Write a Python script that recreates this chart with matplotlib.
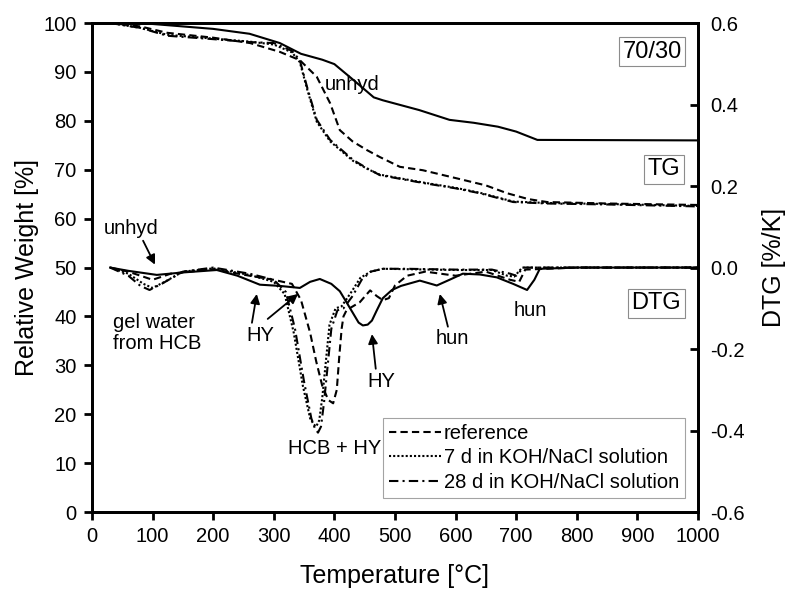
import numpy as np
import matplotlib
matplotlib.use('Agg')
import matplotlib.pyplot as plt

plt.rcParams['font.family'] = ['Liberation Sans', 'DejaVu Sans']

# TG curves (relative weight %)
tg_unhyd_T = [30, 100, 200, 260, 310, 345, 380, 400, 430, 465, 480, 540, 590, 630, 670, 700, 735, 1000]
tg_unhyd_W = [100, 99.8, 98.8, 97.8, 95.9, 93.7, 92.5, 91.6, 88.5, 84.8, 84.2, 82.2, 80.2, 79.6, 78.8, 77.8, 76.1, 76.0]

tg_ref_T = [30, 80, 124, 200, 261, 310, 343, 371, 393, 409, 430, 454, 475, 508, 546, 600, 650, 685, 720, 751, 850, 1000]
tg_ref_W = [100, 99.3, 98.0, 97.0, 95.9, 94.1, 92.4, 89.0, 83.6, 78.1, 75.8, 74.0, 72.6, 70.6, 69.9, 68.3, 66.8, 65.2, 64.0, 63.4, 63.1, 62.8]

tg_7d_T = [30, 80, 124, 200, 260, 300, 330, 343, 355, 371, 393, 431, 454, 475, 546, 600, 640, 695, 750, 850, 1000]
tg_7d_W = [100, 99.0, 97.6, 96.8, 96.2, 95.6, 94.0, 92.0, 86.5, 79.8, 75.8, 71.8, 70.2, 69.0, 67.4, 66.3, 65.3, 63.5, 63.2, 63.0, 62.6]

tg_28d_T = [30, 80, 124, 200, 260, 300, 330, 343, 355, 371, 393, 431, 454, 475, 546, 600, 640, 695, 750, 850, 1000]
tg_28d_W = [100, 99.0, 97.4, 96.7, 96.1, 95.9, 94.3, 92.4, 86.9, 80.2, 76.1, 72.0, 70.3, 68.9, 67.3, 66.2, 65.2, 63.4, 63.1, 62.9, 62.5]

# DTG curves (%/K)
dtg_unhyd_T = [30, 60, 107, 150, 206, 240, 277, 310, 343, 360, 376, 395, 409, 420, 430, 440, 447, 455, 462, 470, 480, 495, 510, 541, 569, 590, 612, 640, 668, 695, 718, 730, 739, 800, 1000]
dtg_unhyd_D = [0, -0.008, -0.018, -0.012, -0.006, -0.02, -0.042, -0.045, -0.05, -0.035, -0.028, -0.04, -0.058, -0.085, -0.11, -0.135, -0.142, -0.14, -0.13, -0.105, -0.075, -0.055, -0.045, -0.032, -0.044, -0.03, -0.015, -0.017, -0.024, -0.04, -0.055, -0.03, -0.003, 0, 0]

dtg_ref_T = [30, 60, 100, 130, 200, 260, 300, 330, 345, 360, 370, 380, 390, 398, 404, 408, 412, 415, 420, 425, 442, 459, 470, 480, 490, 500, 520, 550, 600, 650, 690, 705, 715, 800, 1000]
dtg_ref_D = [0, -0.01, -0.03, -0.015, -0.004, -0.02, -0.03, -0.04, -0.08, -0.16, -0.23, -0.29, -0.325, -0.333, -0.3, -0.22, -0.15, -0.12, -0.105, -0.1, -0.085, -0.056, -0.07, -0.08, -0.075, -0.044, -0.02, -0.01, -0.02, -0.01, -0.03, -0.035, -0.005, 0, 0]

dtg_7d_T = [30, 60, 85, 100, 120, 150, 200, 260, 300, 318, 333, 348, 360, 366, 370, 375, 380, 386, 392, 402, 412, 428, 443, 460, 480, 520, 600, 660, 685, 697, 710, 800, 1000]
dtg_7d_D = [0, -0.015, -0.04, -0.05, -0.035, -0.01, -0.002, -0.018, -0.035, -0.065, -0.16, -0.29, -0.37, -0.385, -0.39, -0.375, -0.32, -0.23, -0.14, -0.1, -0.095, -0.06, -0.025, -0.01, -0.003, -0.004, -0.006, -0.006, -0.02, -0.022, 0, 0, 0]

dtg_28d_T = [30, 60, 80, 95, 115, 150, 200, 260, 300, 320, 335, 350, 362, 368, 373, 378, 383, 389, 395, 405, 415, 430, 445, 460, 480, 520, 600, 660, 690, 700, 712, 800, 1000]
dtg_28d_D = [0, -0.02, -0.045, -0.055, -0.04, -0.01, 0.0, -0.015, -0.03, -0.06, -0.15, -0.28, -0.37, -0.395, -0.405, -0.39, -0.33, -0.24, -0.15, -0.105, -0.1, -0.07, -0.03, -0.01, -0.003, -0.003, -0.005, -0.005, -0.015, -0.02, 0, 0, 0]

legend_labels = ['reference', '7 d in KOH/NaCl solution', '28 d in KOH/NaCl solution']

fig = plt.figure(figsize=(7.86, 5.90), dpi=100)
ax = fig.add_axes([0.117, 0.132, 0.771, 0.829])
ax2 = ax.twinx()

lw = 1.5
dash = (0, (3.5, 2))
dot = (0, (1, 1))
dashdot = (0, (4.5, 2, 1, 2))

ax.plot(tg_unhyd_T, tg_unhyd_W, color='k', lw=lw, ls='-')
l1, = ax.plot(tg_ref_T, tg_ref_W, color='k', lw=lw, ls=dash)
l2, = ax.plot(tg_7d_T, tg_7d_W, color='k', lw=lw, ls=dot)
l3, = ax.plot(tg_28d_T, tg_28d_W, color='k', lw=lw, ls=dashdot)

ax2.plot(dtg_unhyd_T, dtg_unhyd_D, color='k', lw=lw, ls='-')
ax2.plot(dtg_ref_T, dtg_ref_D, color='k', lw=lw, ls=dash)
ax2.plot(dtg_7d_T, dtg_7d_D, color='k', lw=lw, ls=dot)
ax2.plot(dtg_28d_T, dtg_28d_D, color='k', lw=lw, ls=dashdot)

ax.set_xlim(0, 1000)
ax.set_ylim(0, 100)
ax2.set_ylim(-0.6, 0.6)
ax.set_xticks(np.arange(0, 1001, 100))
ax.set_yticks(np.arange(0, 101, 10))
ax2.set_yticks(np.arange(-0.6, 0.61, 0.2))
ax2.set_yticklabels(['-0.6', '-0.4', '-0.2', '0.0', '0.2', '0.4', '0.6'])

for a in (ax, ax2):
    for s in a.spines.values():
        s.set_linewidth(2)
ax.tick_params(axis='both', direction='out', length=6, width=2, labelsize=14.5, pad=5)
ax2.tick_params(axis='y', direction='in', length=6, width=2, labelsize=14.5, pad=9)

ax.set_xlabel('Temperature [°C]', fontsize=18, labelpad=13)
ax.set_ylabel('Relative Weight [%]', fontsize=18, labelpad=3)
ax2.set_ylabel('DTG [%/K]', fontsize=18, labelpad=12)

box = dict(boxstyle='square,pad=0.15', fc='white', ec='0.55', lw=0.8)
ax.text(924, 94.1, '70/30', fontsize=17, ha='center', va='center', bbox=box)
ax.text(944, 70.1, 'TG', fontsize=17, ha='center', va='center', bbox=box)
ax.text(931, 42.7, 'DTG', fontsize=17, ha='center', va='center', bbox=box)

fs = 14.5
ax.text(429, 87.5, 'unhyd', fontsize=fs, ha='center', va='center')
ax.text(35, 36.6, 'gel water\nfrom HCB', fontsize=fs, ha='left', va='center', linespacing=1.1)
ax.text(401, 13.0, 'HCB + HY', fontsize=fs, ha='center', va='center')
ax.text(723, 41.3, 'hun', fontsize=fs, ha='center', va='center')

arrow = dict(arrowstyle='-|>', color='k', lw=1.3, mutation_scale=14, shrinkA=0, shrinkB=0)
ax.annotate('unhyd', xy=(104, 50.6), xytext=(64, 58.0), fontsize=fs, ha='center', va='center',
            arrowprops=dict(arrow, relpos=(0.7, 0)))
ax.annotate('HY', xy=(272, 44.6), xytext=(277, 36.2), fontsize=fs, ha='center', va='center',
            arrowprops=dict(arrow, relpos=(0.2, 1)))
ax.annotate('', xy=(340, 44.6), xytext=(290, 39.5), arrowprops=arrow)
ax.annotate('HY', xy=(462, 36.4), xytext=(478, 26.8), fontsize=fs, ha='center', va='center',
            arrowprops=dict(arrow, relpos=(0.3, 1)))
ax.annotate('hun', xy=(574, 44.6), xytext=(594, 35.4), fontsize=fs, ha='center', va='center',
            arrowprops=dict(arrow, relpos=(0.4, 1)))

leg = ax2.legend([l1, l2, l3], legend_labels, loc='lower right', bbox_to_anchor=(0.979, 0.029),
                 borderaxespad=0, fontsize=14.5, frameon=True, fancybox=False,
                 handlelength=2.6, handletextpad=0.15, labelspacing=0.28, borderpad=0.3)
leg.get_frame().set_edgecolor('0.55')
leg.get_frame().set_linewidth(0.8)

fig.savefig('out.png', dpi=100)
